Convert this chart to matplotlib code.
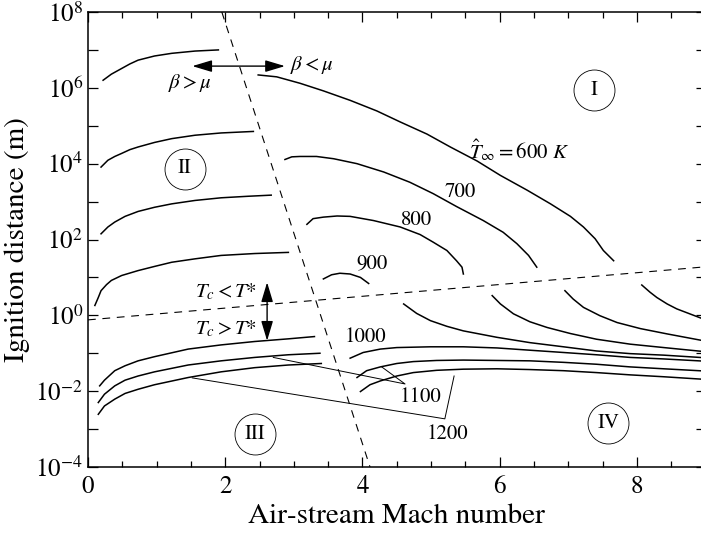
import numpy as np
import matplotlib.pyplot as plt
from matplotlib.ticker import FixedLocator, LogLocator, FuncFormatter, NullFormatter, MultipleLocator

plt.rcParams['font.family'] = 'STIXGeneral'
plt.rcParams['mathtext.fontset'] = 'stix'

# curve data: Mach number and log10(ignition distance in m)
# left of the beta = mu line
x600_l = [0.22, 0.34, 0.49, 0.61, 0.73, 0.97, 1.22, 1.56, 1.90]
y600_l = [6.20, 6.36, 6.51, 6.63, 6.73, 6.84, 6.91, 6.97, 7.00]
x700_l = [0.19, 0.29, 0.39, 0.49, 0.61, 0.73, 0.97, 1.22, 1.56, 1.94, 2.41]
y700_l = [3.91, 4.09, 4.19, 4.27, 4.37, 4.44, 4.56, 4.66, 4.75, 4.81, 4.85]
x800_l = [0.19, 0.29, 0.39, 0.54, 0.73, 0.97, 1.22, 1.56, 1.94, 2.33, 2.67]
y800_l = [2.15, 2.33, 2.46, 2.61, 2.74, 2.85, 2.94, 3.03, 3.10, 3.14, 3.17]
x900_l = [0.10, 0.15, 0.19, 0.27, 0.34, 0.49, 0.73, 0.97, 1.22, 1.56, 1.94, 2.43, 2.92]
y900_l = [0.26, 0.47, 0.65, 0.81, 0.92, 1.05, 1.18, 1.29, 1.40, 1.49, 1.58, 1.63, 1.66]
x1000_l = [0.17, 0.24, 0.39, 0.54, 0.73, 0.97, 1.46, 1.94, 2.43, 2.92, 3.30]
y1000_l = [-1.86, -1.71, -1.46, -1.33, -1.20, -1.09, -0.89, -0.78, -0.69, -0.62, -0.56]
x1100_l = [0.15, 0.24, 0.39, 0.54, 0.73, 0.97, 1.46, 1.94, 2.43, 2.92, 3.38]
y1100_l = [-2.30, -2.08, -1.86, -1.71, -1.60, -1.49, -1.31, -1.20, -1.11, -1.04, -1.00]
x1200_l = [0.15, 0.24, 0.39, 0.54, 0.73, 0.97, 1.46, 1.94, 2.43, 2.92, 3.40]
y1200_l = [-2.61, -2.39, -2.21, -2.06, -1.95, -1.83, -1.64, -1.49, -1.38, -1.31, -1.27]

# right of the beta = mu line, above Tc = T*
x600_u = [2.48, 2.75, 3.09, 3.43, 3.82, 4.21, 4.55, 4.94, 5.28, 5.67, 6.01, 6.40, 6.74,
          7.03, 7.22, 7.39, 7.51, 7.66]
y600_u = [6.34, 6.29, 6.12, 5.92, 5.67, 5.39, 5.10, 4.78, 4.44, 4.07, 3.69, 3.30, 2.94,
          2.61, 2.33, 2.02, 1.71, 1.44]
x700_u = [2.87, 2.97, 3.09, 3.33, 3.58, 3.92, 4.31, 4.69, 5.03, 5.37, 5.76, 6.05, 6.25,
          6.42, 6.54]
y700_u = [4.11, 4.18, 4.19, 4.19, 4.13, 4.00, 3.78, 3.51, 3.21, 2.87, 2.50, 2.19, 1.89,
          1.58, 1.27]
x800_u = [3.19, 3.28, 3.43, 3.63, 3.82, 4.16, 4.55, 4.84, 5.03, 5.23, 5.37, 5.45, 5.47]
y800_u = [2.40, 2.55, 2.59, 2.62, 2.61, 2.50, 2.33, 2.13, 1.93, 1.71, 1.44, 1.27, 1.09]
x900_u = [3.43, 3.55, 3.67, 3.82, 3.97, 4.09]
y900_u = [0.96, 1.07, 1.11, 1.09, 1.00, 0.84]

# right of the beta = mu line, below Tc = T*
x600_d = [8.07, 8.19, 8.29, 8.44, 8.58, 9.0]
y600_d = [0.80, 0.61, 0.47, 0.30, 0.17, -0.12]
x700_d = [6.95, 7.07, 7.22, 7.46, 7.71, 8.05, 8.44, 9.0]
y700_d = [0.65, 0.43, 0.21, -0.01, -0.19, -0.35, -0.49, -0.68]
x800_d = [5.89, 6.01, 6.20, 6.44, 6.69, 7.03, 7.41, 7.90, 8.39, 9.0]
y800_d = [0.52, 0.30, 0.04, -0.17, -0.32, -0.48, -0.63, -0.76, -0.85, -0.96]
x900_d = [4.60, 4.79, 4.99, 5.23, 5.47, 5.96, 6.44, 6.93, 7.41, 7.90, 8.39, 9.0]
y900_d = [0.30, 0.05, -0.14, -0.29, -0.41, -0.58, -0.72, -0.83, -0.94, -1.01, -1.05, -1.12]
x1000_r = [3.82, 4.01, 4.26, 4.50, 4.99, 5.47, 5.96, 6.44, 6.93, 7.41, 7.90, 8.39, 9.0]
y1000_r = [-1.13, -0.98, -0.89, -0.85, -0.83, -0.83, -0.86, -0.92, -0.98, -1.04, -1.11,
           -1.15, -1.21]
x1100_r = [3.92, 4.06, 4.26, 4.50, 4.74, 5.08, 5.47, 5.96, 6.44, 6.93, 7.41, 7.90, 8.39, 9.0]
y1100_r = [-1.64, -1.46, -1.36, -1.27, -1.22, -1.19, -1.18, -1.19, -1.20, -1.24, -1.29,
           -1.36, -1.41, -1.47]
x1200_r = [3.97, 4.11, 4.26, 4.50, 4.74, 5.08, 5.47, 5.96, 6.44, 6.93, 7.41, 7.90, 8.39, 9.0]
y1200_r = [-2.01, -1.83, -1.73, -1.60, -1.51, -1.45, -1.42, -1.41, -1.43, -1.46, -1.51,
           -1.57, -1.62, -1.69]

# boundaries
x_beta = [1.95, 4.11]
y_beta = [8.0, -4.0]
x_tc = [0.0, 9.0]
y_tc = [-0.12, 1.28]

curves = [
    (x600_l, y600_l), (x700_l, y700_l), (x800_l, y800_l), (x900_l, y900_l),
    (x1000_l, y1000_l), (x1100_l, y1100_l), (x1200_l, y1200_l),
    (x600_u, y600_u), (x700_u, y700_u), (x800_u, y800_u), (x900_u, y900_u),
    (x600_d, y600_d), (x700_d, y700_d), (x800_d, y800_d), (x900_d, y900_d),
    (x1000_r, y1000_r), (x1100_r, y1100_r), (x1200_r, y1200_r),
]

fig = plt.figure(figsize=(7.01, 5.34), dpi=100)
ax = fig.add_axes([88 / 701, 1 - 467 / 534, (705.6 - 88) / 701, 455 / 534])

for xs, ys in curves:
    ax.plot(xs, 10 ** np.array(ys), color='k', lw=1.1)

ax.plot(x_beta, 10 ** np.array(y_beta), color='k', lw=0.8, dashes=(7, 6))
ax.plot(x_tc, 10 ** np.array(y_tc), color='k', lw=0.8, dashes=(7, 6))

# leader lines
ax.plot([2.70, 4.62, 4.28], 10 ** np.array([-1.11, -1.81, -1.36]), color='k', lw=0.7)
ax.plot([1.52, 5.20, 5.335], 10 ** np.array([-1.65, -2.73, -1.60]), color='k', lw=0.7)

# labels on curves
fs = 15
ax.text(6.28, 10 ** 4.35, r'$\hat{T}_{\infty} = 600\ K$', fontsize=fs, ha='center', va='center')
ax.text(5.42, 10 ** 3.25, '700', fontsize=fs, ha='center', va='center')
ax.text(4.79, 10 ** 2.52, '800', fontsize=fs, ha='center', va='center')
ax.text(4.135, 10 ** 1.36, '900', fontsize=fs, ha='center', va='center')
ax.text(4.04, 10 ** -0.565, '1000', fontsize=fs, ha='center', va='center')
ax.text(4.84, 10 ** -2.17, '1100', fontsize=fs, ha='center', va='center')
ax.text(5.233, 10 ** -3.13, '1200', fontsize=fs, ha='center', va='center')

# regions
regions_x = [7.38, 1.41, 2.434, 7.58]
regions_y = [5.94, 3.87, -3.14, -2.84]
regions_txt = ['I', 'II', 'III', 'IV']
for rx, ry, rt in zip(regions_x, regions_y, regions_txt):
    ax.plot(rx, 10 ** ry, 'o', ms=29.5, mfc='none', mec='k', mew=0.6)
    ax.text(rx, 10 ** ry, rt, fontsize=15, ha='center', va='center')

# arrows
arr = dict(arrowstyle='<|-|>,head_length=0.6,head_width=0.18', color='k', lw=1.0,
           shrinkA=0, shrinkB=0, mutation_scale=20)
ax.annotate('', xy=(2.87, 10 ** 6.573), xytext=(1.52, 10 ** 6.573), arrowprops=arr)
ax.annotate('', xy=(2.61, 10 ** -0.67), xytext=(2.61, 10 ** 0.871), arrowprops=arr)
ax.text(1.48, 10 ** 6.115, r'$\beta > \mu$', fontsize=fs, ha='center', va='center')
ax.text(3.26, 10 ** 6.60, r'$\beta < \mu$', fontsize=fs, ha='center', va='center')
ax.text(2.016, 10 ** 0.607, r'$T_c < T$*', fontsize=fs, ha='center', va='center')
ax.text(2.016, 10 ** -0.36, r'$T_c > T$*', fontsize=fs, ha='center', va='center')

ax.set_xlim(0, 9)
ax.set_ylim(1e-4, 1e8)
ax.set_yscale('log')
ax.xaxis.set_major_locator(FixedLocator([0, 2, 4, 6, 8]))
ax.xaxis.set_minor_locator(MultipleLocator(0.5))
ax.yaxis.set_major_locator(FixedLocator([10.0 ** k for k in range(-4, 9)]))
ax.yaxis.set_minor_locator(LogLocator(base=10, subs=np.arange(2, 10)))
ax.yaxis.set_minor_formatter(NullFormatter())


def fmt(v, p):
    k = int(round(np.log10(v)))
    return r'$10^{%d}$' % k if k % 2 == 0 else ''


ax.yaxis.set_major_formatter(FuncFormatter(fmt))
ax.tick_params(which='both', direction='in', top=True, right=True, labelsize=18, width=0.9)
ax.tick_params(which='major', length=7)
ax.tick_params(which='minor', length=4)
ax.tick_params(axis='x', pad=6)
for s in ax.spines.values():
    s.set_linewidth(1.1)

ax.set_xlabel('Air-stream Mach number', fontsize=21, labelpad=3)
ax.set_ylabel('Ignition distance (m)', fontsize=21, labelpad=4)

fig.savefig('out.png', dpi=100)
